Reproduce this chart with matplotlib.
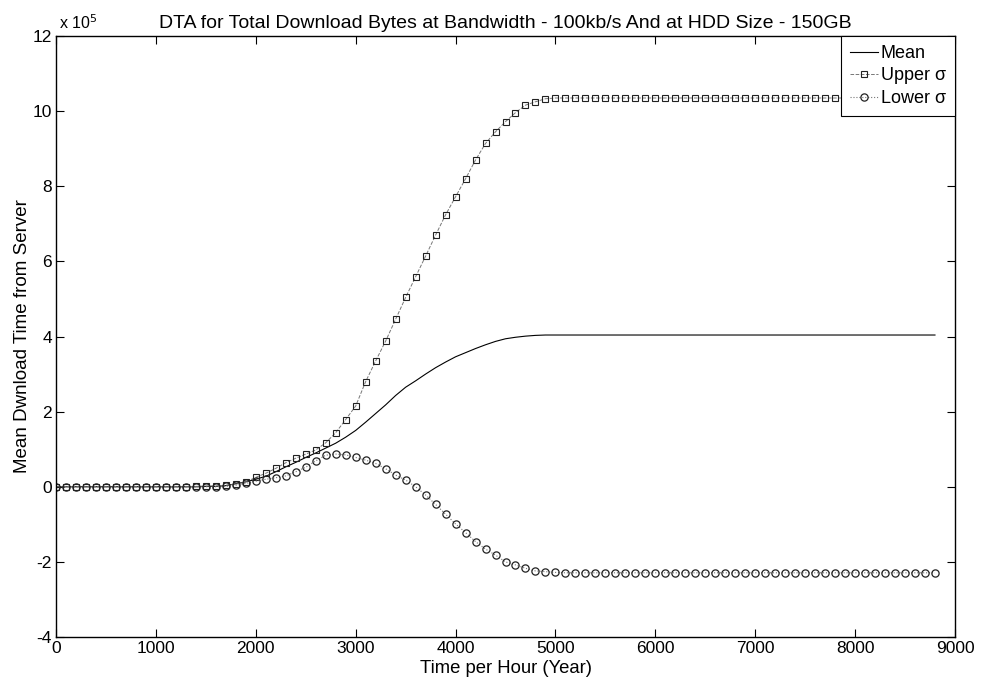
import matplotlib
matplotlib.use("Agg")
import matplotlib.pyplot as plt
import numpy as np

plt.rcParams['font.family'] = ['Liberation Sans', 'DejaVu Sans']

# Time per hour (x), step 100
hours = list(range(0, 8900, 100))

# Values in units of 1e5
mean_vals = [
    0.00, 0.00, 0.00, 0.00, 0.00, 0.00, 0.00, 0.00, 0.00, 0.00,   # 0-900
    0.00, 0.00, 0.00, 0.00, 0.00, 0.01, 0.01, 0.03, 0.08, 0.13,   # 1000-1900
    0.20, 0.28, 0.40, 0.53, 0.65, 0.78, 0.90, 1.03, 1.16, 1.32,   # 2000-2900
    1.50, 1.72, 1.95, 2.18, 2.43, 2.65, 2.82, 3.00, 3.17, 3.32,   # 3000-3900
    3.46, 3.57, 3.68, 3.78, 3.87, 3.94, 3.98, 4.01, 4.03, 4.04,   # 4000-4900
    4.04, 4.04, 4.04, 4.04, 4.04, 4.04, 4.04, 4.04, 4.04, 4.04,   # 5000-5900
    4.04, 4.04, 4.04, 4.04, 4.04, 4.04, 4.04, 4.04, 4.04, 4.04,   # 6000-6900
    4.04, 4.04, 4.04, 4.04, 4.04, 4.04, 4.04, 4.04, 4.04, 4.04,   # 7000-7900
    4.04, 4.04, 4.04, 4.04, 4.04, 4.04, 4.04, 4.04, 4.04,         # 8000-8800
]
upper_vals = [
    0.00, 0.00, 0.00, 0.00, 0.00, 0.00, 0.00, 0.00, 0.00, 0.00,
    0.00, 0.00, 0.00, 0.00, 0.01, 0.02, 0.02, 0.04, 0.07, 0.13,
    0.25, 0.36, 0.49, 0.64, 0.76, 0.87, 0.98, 1.17, 1.44, 1.79,
    2.15, 2.80, 3.35, 3.88, 4.46, 5.04, 5.59, 6.14, 6.70, 7.24,
    7.72, 8.20, 8.70, 9.14, 9.45, 9.72, 9.96, 10.16, 10.25, 10.33,
    10.35, 10.35, 10.35, 10.35, 10.35, 10.35, 10.35, 10.35, 10.35, 10.35,
    10.35, 10.35, 10.35, 10.35, 10.35, 10.35, 10.35, 10.35, 10.35, 10.35,
    10.35, 10.35, 10.35, 10.35, 10.35, 10.35, 10.35, 10.35, 10.35, 10.35,
    10.35, 10.35, 10.35, 10.35, 10.35, 10.35, 10.35, 10.35, 10.35,
]
lower_vals = [
    0.00, 0.00, 0.00, 0.00, 0.00, 0.00, 0.00, 0.00, 0.00, 0.00,
    0.00, 0.00, 0.00, 0.00, 0.00, 0.00, 0.00, 0.01, 0.04, 0.09,
    0.15, 0.20, 0.24, 0.29, 0.40, 0.52, 0.69, 0.84, 0.87, 0.85,
    0.78, 0.71, 0.62, 0.48, 0.31, 0.18, 0.00, -0.22, -0.47, -0.73,
    -0.99, -1.22, -1.46, -1.66, -1.82, -2.00, -2.08, -2.17, -2.24, -2.26,
    -2.28, -2.29, -2.29, -2.29, -2.29, -2.29, -2.29, -2.29, -2.29, -2.29,
    -2.29, -2.29, -2.29, -2.29, -2.29, -2.29, -2.29, -2.29, -2.29, -2.29,
    -2.29, -2.29, -2.29, -2.29, -2.29, -2.29, -2.29, -2.29, -2.29, -2.29,
    -2.29, -2.29, -2.29, -2.29, -2.29, -2.29, -2.29, -2.29, -2.29,
]

x_ticks = [0, 1000, 2000, 3000, 4000, 5000, 6000, 7000, 8000, 9000]
y_ticks = [-4, -2, 0, 2, 4, 6, 8, 10, 12]

fig = plt.figure(figsize=(9.85, 6.86), dpi=100)
ax = fig.add_axes([0.0569, 0.0714, 0.9126, 0.8761])

ax.plot(hours, mean_vals, '-', color='black', lw=0.8, label='Mean')
ax.plot(hours, upper_vals, '--', color='#777777', lw=0.7, marker='s',
        markersize=4.8, markerfacecolor='none', markeredgecolor='#222222',
        markeredgewidth=0.8, label='Upper \u03c3')
ax.plot(hours, lower_vals, ':', color='#777777', lw=0.8, marker='o',
        markersize=5.2, markerfacecolor='none', markeredgecolor='#222222',
        markeredgewidth=0.9, label='Lower \u03c3')

ax.set_xlim(0, 9000)
ax.set_ylim(-4, 12)
ax.set_xticks(x_ticks)
ax.set_yticks(y_ticks)
ax.set_xticklabels([str(t) for t in x_ticks])
ax.set_yticklabels([str(t) for t in y_ticks])
ax.tick_params(direction='in', length=6, width=0.8, top=True, right=True,
               labelsize=12.5, pad=3)
for s in ax.spines.values():
    s.set_linewidth(1.0)
    s.set_color('black')

ax.set_title('DTA for Total Download Bytes at Bandwidth - 100kb/s And at HDD Size - 150GB',
             fontsize=14, pad=6)
ax.set_xlabel('Time per Hour (Year)', fontsize=13.3, labelpad=3)
ax.set_ylabel('Mean Dwnload Time from Server', fontsize=13.5, labelpad=1)

ax.text(0.003, 1.006, 'x 10$^{5}$', transform=ax.transAxes, fontsize=11.5,
        ha='left', va='bottom')

leg = ax.legend(loc='upper right', borderaxespad=0.0, fontsize=13,
                handlelength=1.55, handletextpad=0.15, borderpad=0.5,
                labelspacing=0.3, fancybox=False, framealpha=1)
leg.get_frame().set_edgecolor('black')
leg.get_frame().set_linewidth(0.8)

fig.savefig('out.png', dpi=100, facecolor='white')
